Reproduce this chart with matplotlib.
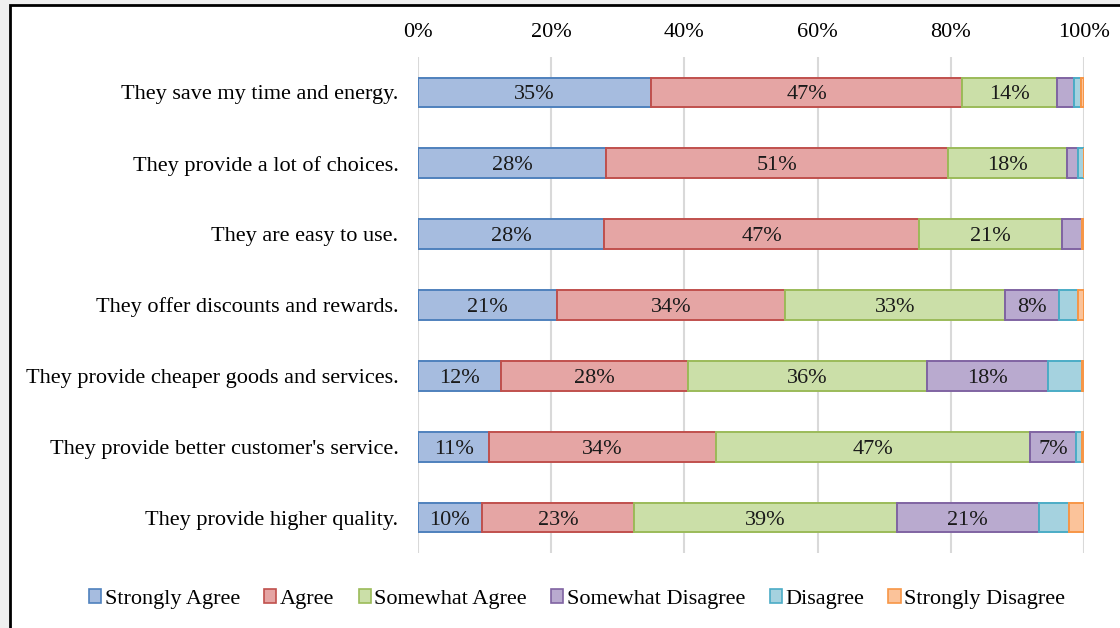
import numpy as np
import matplotlib
matplotlib.use("Agg")
import matplotlib.pyplot as plt
from matplotlib.patches import Rectangle, Patch

statements = [
    "They save my time and energy.",
    "They provide a lot of choices.",
    "They are easy to use.",
    "They offer discounts and rewards.",
    "They provide cheaper goods and services.",
    "They provide better customer's service.",
    "They provide higher quality.",
]
responses = ["Strongly Agree", "Agree", "Somewhat Agree",
             "Somewhat Disagree", "Disagree", "Strongly Disagree"]

# share of answers (%) per statement, one list per response
strongly_agree = [35.0, 28.2, 27.9, 20.9, 12.4, 10.7, 9.6]
agree = [46.7, 51.4, 47.4, 34.2, 28.2, 34.0, 22.9]
somewhat_agree = [14.2, 17.8, 21.4, 33.0, 35.8, 47.2, 39.4]
somewhat_disagree = [2.6, 1.65, 2.95, 8.2, 18.2, 6.9, 21.3]
disagree = [1.0, 0.95, 0.0, 2.75, 5.1, 0.9, 4.6]
strongly_disagree = [0.5, 0.0, 0.35, 0.95, 0.3, 0.3, 2.2]

series = [strongly_agree, agree, somewhat_agree,
          somewhat_disagree, disagree, strongly_disagree]
faces = ["#a6bcdf", "#e5a5a4", "#cbdfa8", "#b9aacf", "#a5d2df", "#fbc39a"]
edges = ["#4f81bd", "#c0504d", "#9bbb59", "#8064a2", "#4bacc6", "#f79646"]

plt.rcParams["font.family"] = ["Liberation Serif", "DejaVu Serif"]
FS = 16

fig = plt.figure(figsize=(11.2, 6.28), dpi=100)
fig.patch.set_facecolor("#efefef")
# white framed panel behind everything
panel = Rectangle((10 / 1120, -0.05), 1.0, 1 - 4.5 / 628 + 0.05,
                  transform=fig.transFigure, facecolor="white",
                  edgecolor="black", linewidth=2, zorder=-10)
fig.add_artist(panel)

ax = fig.add_axes([418 / 1120, 1 - 553 / 628, 666 / 1120, 496 / 628])
ax.set_facecolor("none")
ax.set_zorder(1)

y = np.arange(len(statements))
left = np.zeros(len(statements))
for vals, fc, ec in zip(series, faces, edges):
    vals = np.array(vals)
    ax.barh(y, vals, left=left, height=0.42, color=fc, edgecolor=ec,
            linewidth=1.4, zorder=3)
    for yi, l, v in zip(y, left, vals):
        if v >= 6:
            ax.text(l + v / 2, yi, f"{round(v)}%", ha="center",
                    va="center_baseline", fontsize=FS, color="#1a1a1a", zorder=4)
    left += vals

ax.set_xlim(0, 100)
ax.set_ylim(len(statements) - 0.5, -0.5)
ax.set_xticks(np.arange(0, 101, 20))
ax.set_xticklabels([f"{t}%" for t in range(0, 101, 20)])
ax.xaxis.tick_top()
ax.set_yticks(y)
ax.set_yticklabels(statements)
ax.tick_params(axis="x", length=0, pad=11, labelsize=FS)
ax.tick_params(axis="y", length=0, pad=14, labelsize=FS)
ax.grid(axis="x", color="#d9d9d9", linewidth=1.5, zorder=0)
for s in ax.spines.values():
    s.set_visible(False)

handles = [Patch(facecolor=fc, edgecolor=ec, linewidth=1.2)
           for fc, ec in zip(faces, edges)]
fig.legend(handles, responses, loc="center", bbox_to_anchor=(577 / 1120, 1 - 599 / 628),
           ncol=6, frameon=False, fontsize=FS, handlelength=0.55, handleheight=0.55,
           handletextpad=0.15, columnspacing=1.1)

fig.savefig("out.png", dpi=100, facecolor=fig.get_facecolor())
